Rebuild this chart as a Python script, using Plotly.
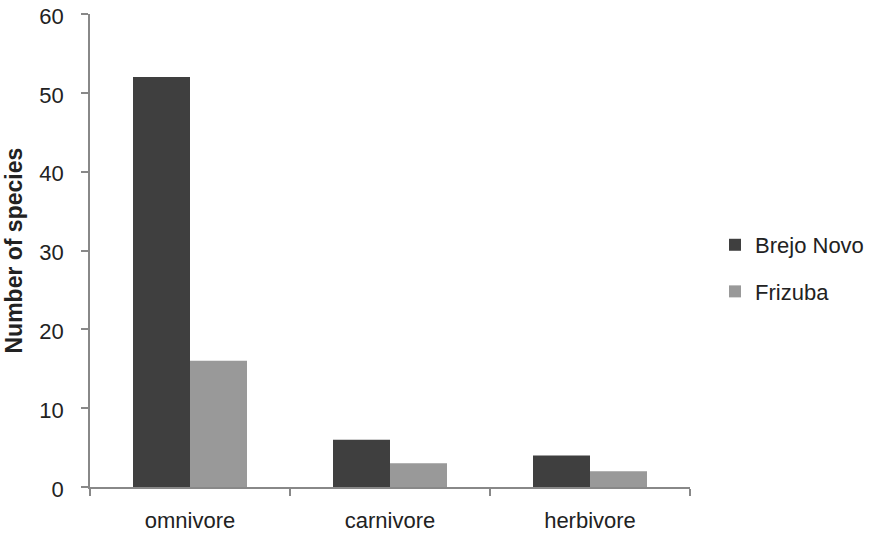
import plotly.graph_objects as go

categories = ["omnivore", "carnivore", "herbivore"]
brejo_novo = [52, 6, 4]
frizuba = [16, 3, 2]
y_ticks = [0, 10, 20, 30, 40, 50, 60]

fig = go.Figure()
fig.add_trace(go.Bar(x=categories, y=brejo_novo, name="Brejo Novo",
                     marker=dict(color="#3f3f3f", line=dict(width=0)),
                     legendgroup="a"))
fig.add_trace(go.Bar(x=categories, y=frizuba, name="Frizuba",
                     marker=dict(color="#999999", line=dict(width=0)),
                     legendgroup="b"))

fig.update_layout(
    width=887, height=535,
    margin=dict(l=90, r=197, t=14, b=48, autoexpand=False),
    paper_bgcolor="white", plot_bgcolor="white",
    barmode="group", bargap=0.43, bargroupgap=0,
    font=dict(family="Liberation Sans, Arial, sans-serif", size=22, color="#222"),
    legend=dict(x=1.0417, y=0.462, xanchor="left", yanchor="middle",
                tracegroupgap=15, font=dict(size=22),
                traceorder="grouped"),
    xaxis=dict(showline=True, linecolor="#888", linewidth=1.5,
               ticks="outside", ticklen=7, tickcolor="#888", tickwidth=1.5,
               tickson="boundaries", showgrid=False, zeroline=False,
               automargin=False, ticklabelstandoff=13,
               tickfont=dict(size=22)),
    yaxis=dict(range=[0, 60], tickvals=y_ticks, showline=True,
               linecolor="#888", linewidth=1.5, ticks="outside", ticklen=7,
               tickcolor="#888", tickwidth=1.5, showgrid=False, zeroline=False,
               automargin=False, ticklabelstandoff=13, ticklabelshift=2,
               ticklabeloverflow="allow",
               tickfont=dict(size=22)),
    annotations=[dict(text="<b>Number of species</b>", xref="paper", yref="paper",
                      x=-0.1283, y=0.5, xanchor="center", yanchor="middle",
                      textangle=-90, showarrow=False, font=dict(size=23))],
)

fig.write_html("out.html", config={"displayModeBar": False},
               post_script="document.body.style.margin='0';document.body.style.overflow='hidden';")
